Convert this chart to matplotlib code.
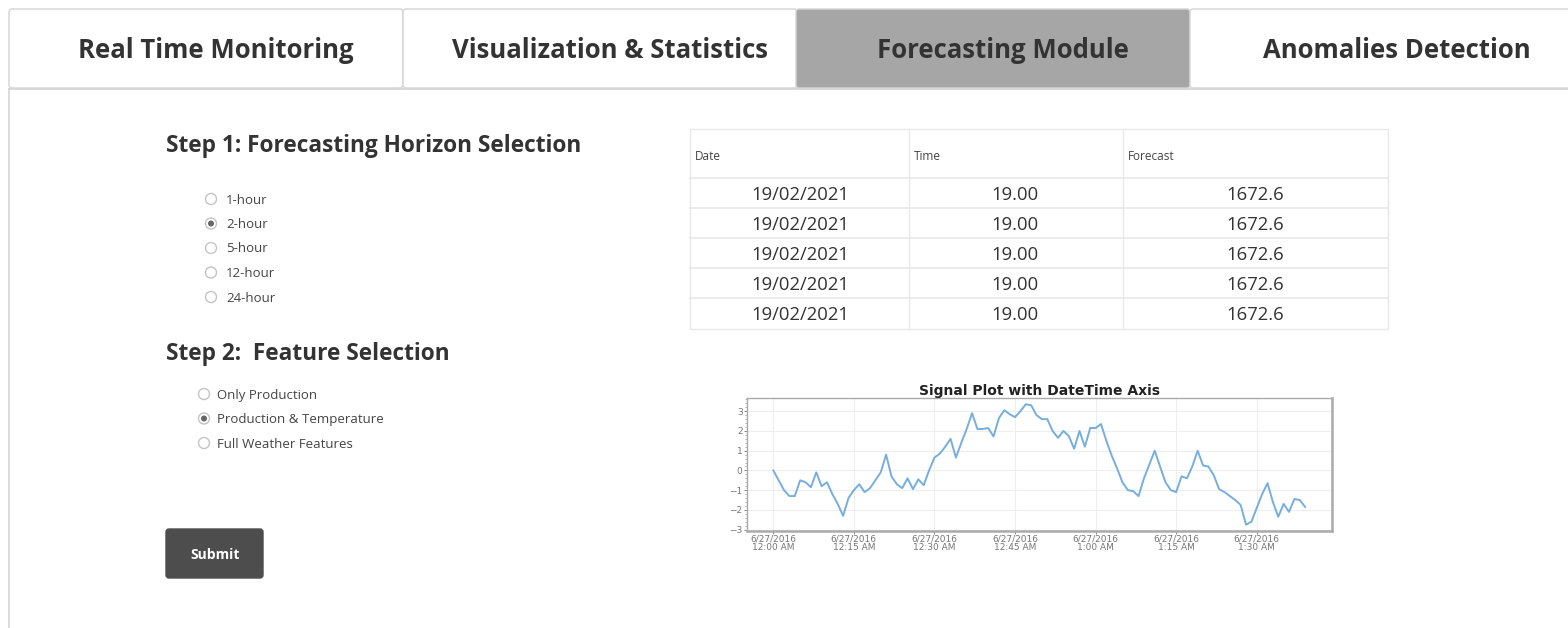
import numpy as np
import pandas as pd
import matplotlib
matplotlib.use('Agg')
from matplotlib import pyplot as plt
from matplotlib import dates as mdates
from matplotlib.patches import Rectangle, Circle, FancyBboxPatch
from matplotlib.ticker import FuncFormatter, MultipleLocator

# Page texts
tabs = ['Real Time Monitoring', 'Visualization & Statistics', 'Forecasting Module', 'Anomalies Detection']
active_tab = 2
step1_title = 'Step 1: Forecasting Horizon Selection'
horizons = ['1-hour', '2-hour', '5-hour', '12-hour', '24-hour']
horizon_selected = 1
step2_title = 'Step 2:  Feature Selection'
features = ['Only Production', 'Production & Temperature', 'Full Weather Features']
feature_selected = 1
button_text = 'Submit'

# Forecast table
table_header = ['Date', 'Time', 'Forecast']
table_dates = ['19/02/2021', '19/02/2021', '19/02/2021', '19/02/2021', '19/02/2021']
table_times = ['19.00', '19.00', '19.00', '19.00', '19.00']
table_forecast = ['1672.6', '1672.6', '1672.6', '1672.6', '1672.6']

# Signal plot (one value per minute)
signal_title = 'Signal Plot with DateTime Axis'
signal_start = '2016-06-27 00:00'
signal = [0.0, -0.5, -1.0, -1.3, -1.3, -0.5, -0.6, -0.85, -0.1, -0.8,
          -0.6, -1.2, -1.7, -2.3, -1.4, -1.0, -0.7, -1.1, -0.9, -0.5,
          -0.1, 0.8, -0.3, -0.7, -0.9, -0.4, -0.95, -0.45, -0.75, 0.0,
          0.65, 0.85, 1.2, 1.6, 0.65, 1.4, 2.1, 2.9, 2.1, 2.1,
          2.15, 1.72, 2.65, 3.05, 2.85, 2.7, 3.0, 3.35, 3.3, 2.8,
          2.6, 2.6, 2.0, 1.65, 2.0, 1.75, 1.1, 2.0, 1.2, 2.15,
          2.15, 2.35, 1.5, 0.75, 0.1, -0.6, -1.0, -1.05, -1.3, -0.4,
          0.3, 1.0, 0.2, -0.6, -1.0, -1.1, -0.3, -0.4, 0.2, 1.0,
          0.25, 0.2, -0.25, -0.95, -1.1, -1.3, -1.5, -1.75, -2.75, -2.6,
          -1.9, -1.2, -0.65, -1.6, -2.35, -1.7, -2.1, -1.45, -1.5, -1.85]

W, H = 1568, 628
plt.rcParams['font.family'] = ['Open Sans', 'DejaVu Sans']
fig = plt.figure(figsize=(W/100, H/100), dpi=100)

# background axes in pixel units
bg = fig.add_axes([0, 0, 1, 1])
bg.set_xlim(0, W)
bg.set_ylim(H, 0)
bg.axis('off')

txt = '#333333'
border = '#d4d4d4'

# tabs
tab_x = [9, 403, 796, 1190]
tab_w = 394
for i, name in enumerate(tabs):
    fc = '#a6a6a6' if i == active_tab else 'white'
    bg.add_patch(FancyBboxPatch((tab_x[i] + 3, 12), tab_w - 6, 73,
                                boxstyle='round,pad=3', fc=fc, ec=border, lw=1))
    bg.text(tab_x[i] + tab_w/2 + 10, 51, name, ha='center', va='center',
            fontsize=18.5, fontweight='bold', color=txt)
# content panel border
bg.plot([9, W], [89, 89], color=border, lw=1.2)
bg.plot([9, 9], [89, H], color=border, lw=1.2)

# step 1
bg.text(166, 146, step1_title, ha='left', va='center', fontsize=16.3, fontweight='bold', color=txt)
for i, h in enumerate(horizons):
    y = 199 + i*24.5
    bg.add_patch(Circle((211, y), 5.5, fc='white', ec='#c4c4c4', lw=1))
    if i == horizon_selected:
        bg.add_patch(Circle((211, y), 3, fc='#666666', ec='none'))
    bg.text(226, y + 1, h, ha='left', va='center', fontsize=9.5, color='#444444')

# step 2
bg.text(166, 354, step2_title, ha='left', va='center', fontsize=16.3, fontweight='bold', color=txt)
for i, f in enumerate(features):
    y = 394 + i*24.5
    bg.add_patch(Circle((204, y), 5.5, fc='white', ec='#c4c4c4', lw=1))
    if i == feature_selected:
        bg.add_patch(Circle((204, y), 3, fc='#666666', ec='none'))
    bg.text(217, y + 1, f, ha='left', va='center', fontsize=9.5, color='#444444')

# submit button
bg.add_patch(FancyBboxPatch((169, 532), 91, 43, boxstyle='round,pad=3',
                            fc='#4d4d4d', ec='#4d4d4d'))
bg.text(215, 555, button_text, ha='center', va='center', fontsize=10,
        fontweight='bold', color='white')

# table
col_x = [690, 909, 1123, 1388]
row_y = [129, 178, 208, 238, 268, 298, 329]
grid_c = '#e8e8e8'
bg.add_patch(Rectangle((col_x[0], row_y[0]), col_x[-1] - col_x[0], row_y[-1] - row_y[0],
                       fc='white', ec=grid_c, lw=1))
for x in col_x[1:-1]:
    bg.plot([x, x], [row_y[0], row_y[-1]], color=grid_c, lw=1)
for y in row_y[1:-1]:
    bg.plot([col_x[0], col_x[-1]], [y, y], color=grid_c, lw=1.2)
for j, hd in enumerate(table_header):
    bg.text(col_x[j] + 5, 156, hd, ha='left', va='center', fontsize=8.5, color='#444444')
cols = [table_dates, table_times, table_forecast]
centers = [800, 1015, 1255]
for j, col in enumerate(cols):
    for r, v in enumerate(col):
        bg.text(centers[j], (row_y[r+1] + row_y[r+2])/2 + 2, v, ha='center', va='center',
                fontsize=13.3, color=txt)

# signal plot
times = pd.date_range(signal_start, periods=len(signal), freq='min')
ax = fig.add_axes([746.7/W, 1 - 530.7/H, 585/W, 132.4/H])
ax.plot(times, signal, color='#76aee0', lw=1.4)
ax.set_title(signal_title, fontsize=10, fontweight='bold', family=['DejaVu Sans'],
             color='#222222', pad=1)
ax.grid(True, color='#eeeeee', lw=0.8)
ax.set_axisbelow(True)
ax.xaxis.set_major_locator(mdates.MinuteLocator(byminute=[0, 15, 30, 45]))

def fmt_date(x, pos):
    d = mdates.num2date(x)
    hr = d.hour % 12
    if hr == 0:
        hr = 12
    ap = 'AM' if d.hour < 12 else 'PM'
    return '%d/%d/%d\n%d:%02d %s' % (d.month, d.day, d.year, hr, d.minute, ap)

ax.xaxis.set_major_formatter(FuncFormatter(fmt_date))
ax.yaxis.set_major_locator(MultipleLocator(1))
ax.yaxis.set_minor_locator(MultipleLocator(0.2))
ax.tick_params(axis='both', labelsize=6.5, colors='#777777', length=2, width=0.6, pad=1)
ax.tick_params(axis='y', which='minor', length=1.5, width=0.5, colors='#999999')
for lab in ax.get_xticklabels() + ax.get_yticklabels():
    lab.set_family('DejaVu Sans')
    lab.set_linespacing(0.85)
for s in ax.spines.values():
    s.set_color('#aaaaaa')
    s.set_linewidth(1)
ax.spines['right'].set_linewidth(1.8)
ax.spines['bottom'].set_linewidth(1.8)

fig.savefig('out.png', dpi=100)
